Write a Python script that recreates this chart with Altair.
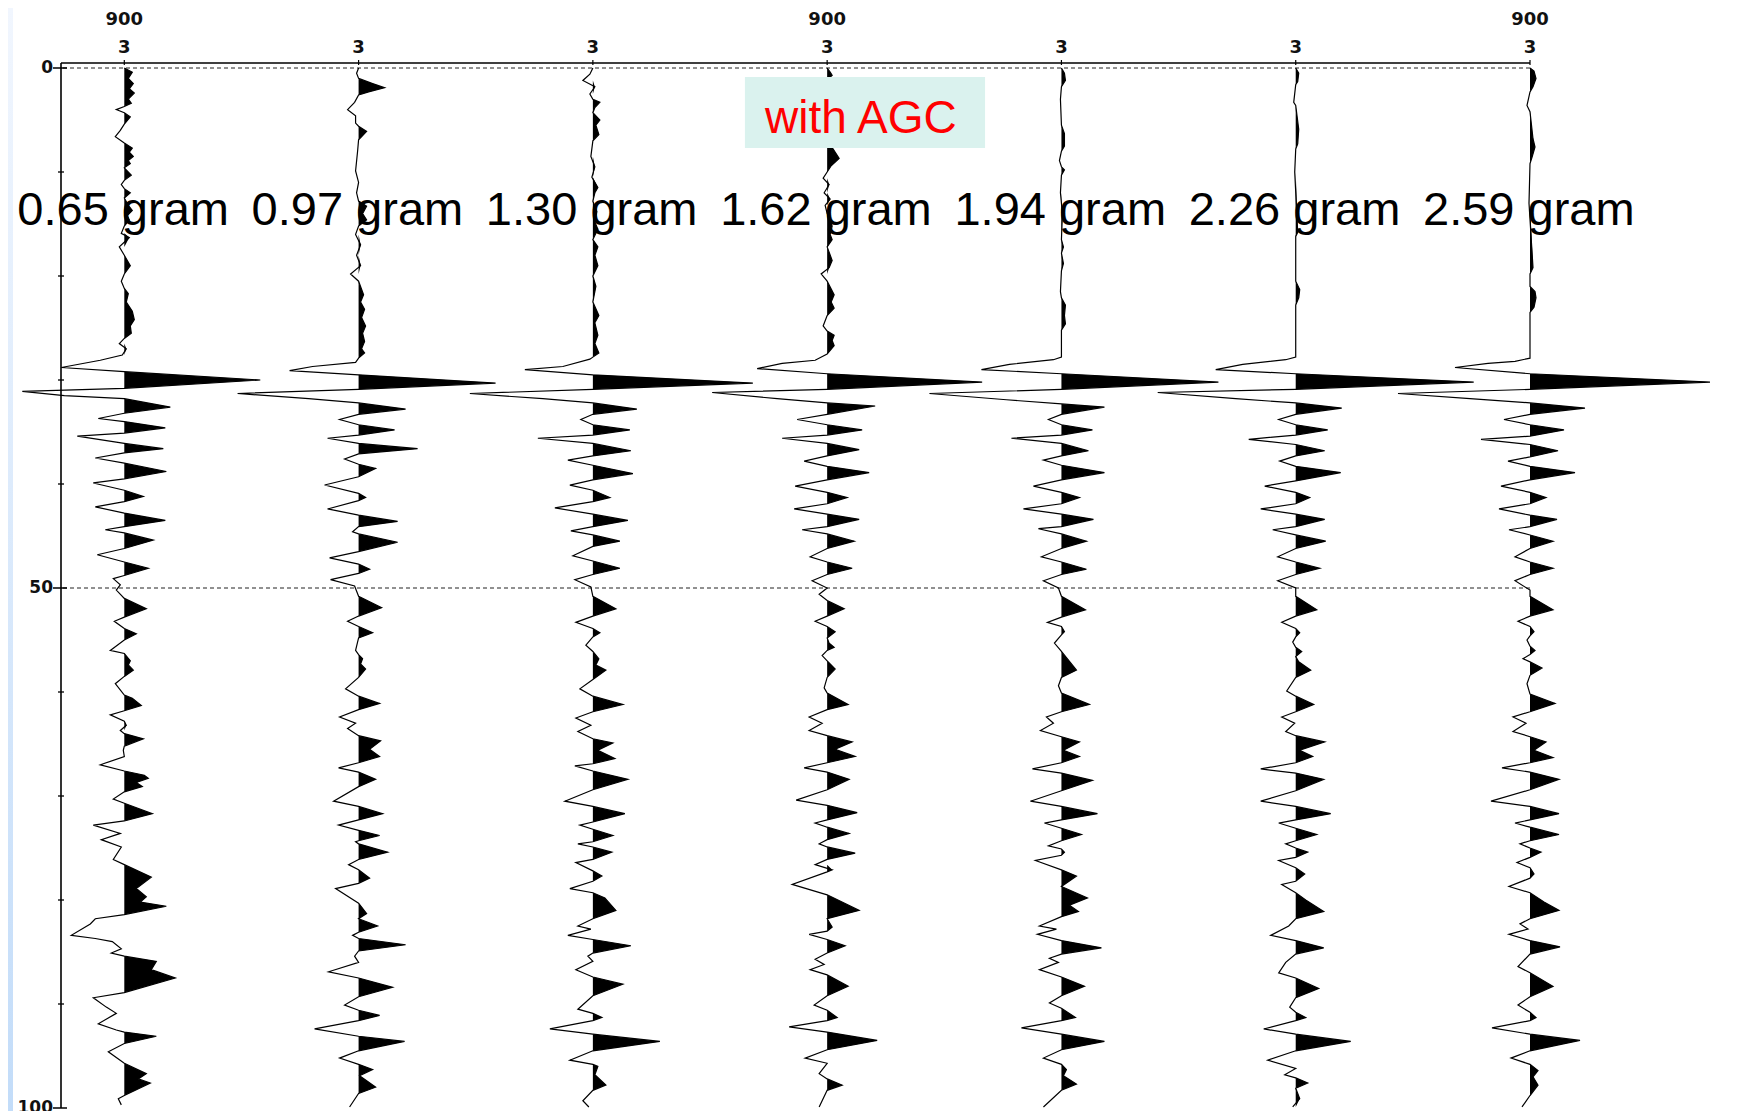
import altair as alt
import pandas as pd

# ---------------- data ----------------
trace_ids = [1, 2, 3, 4, 5, 6, 7]
weight_labels = ["0.65 gram", "0.97 gram", "1.30 gram", "1.62 gram",
                 "1.94 gram", "2.26 gram", "2.59 gram"]
header_upper = "900"
header_upper_traces = [1, 4, 7]
header_lower = "3"
y_major = [0, 50]                        # dashed reference lines
y_major_ticks = [0, 50, 100]             # labelled ticks
y_minor_ticks = [10, 20, 30, 40, 60, 70, 80, 90]
annotation_text = "with AGC"

# (time, amplitude) samples of each trace; amplitude in gain units
t1 = [(0,0),(0.4,8),(1.0,4),(1.5,9),(2.0,5),(2.4,10),(3.0,4),(3.4,7),(3.7,0),(4.0,-8),(4.3,0),(4.7,6),
      (5.4,0),(6.0,-4),(6.6,-9),(7.2,0),(7.7,8),(8.1,5),(8.5,9),(8.9,4),(9.2,6),(9.6,0),(10.3,7),(10.8,0),
      (11.2,-3),(11.6,0),(12.0,6),(12.5,0),(13.2,4),(13.7,8),(14.2,3),(14.6,5),(15.2,0),(15.9,-3),(16.3,5),
      (17.2,-5),(18.0,0),(19.0,6),(19.8,0),(20.5,-3),(21.2,0),(21.7,4),(22.5,2),(23.4,8),(24.2,10),(24.8,6),
      (25.5,7),(26.0,0),(26.5,-5),(27.0,2),(27.6,-2),(28.1,-24),(28.8,-63),(29.2,0),(30.0,136),(30.8,0),
      (31.1,-102),(31.5,-60),(31.8,0),(32.6,46),(33.2,0),(33.7,-26),(34.0,0),(34.6,41),(35.1,0),(35.4,-47),
      (36.1,0),(36.6,39),(37.0,0),(37.5,-29),(38.0,0),(38.8,42),(39.5,0),(39.9,-31),(40.6,0),(41.2,19),
      (41.7,0),(42.2,-29),(42.8,0),(43.5,41),(44.1,0),(44.4,-19),(44.7,0),(45.4,29),(46.2,0),(46.8,-27),
      (47.5,0),(48.1,24),(48.8,0),(49.1,-11),(49.7,-4),(50.2,-8),(51.0,0),(52.0,22),(52.8,0),(53.2,-10),
      (53.9,0),(54.4,12),(55.0,0),(56.0,-14),(56.3,0),(57.0,6),(57.4,4),(57.9,9),(58.5,0),(59.2,-9),(60.3,0),
      (60.6,8),(61.3,17),(61.8,0),(62.2,-14),(62.8,0),(63.2,2),(63.7,-4),(64.0,0),(64.5,19),(65.2,0),
      (65.6,-1),(66.2,0),(67.0,-24),(67.6,0),(68.0,20),(68.3,24),(68.7,12),(69.1,18),(69.6,0),(70.3,-11),
      (70.7,0),(71.7,28),(72.4,0),(72.8,-31),(73.6,-4),(74.2,-23),(74.9,-3),(76.1,-11),(76.6,0),(77.8,27),
      (78.9,12),(79.7,22),(80.2,16),(80.6,42),(81.4,0),(81.8,-29),(82.3,-34),(83.4,-53),(83.7,-29),
      (84.0,-12),(84.7,-3),(85.1,-13),(85.4,0),(85.9,32),(86.7,27),(87.5,51),(88.9,0),(89.4,-31),(90.3,-18),
      (90.9,-8),(91.9,-26),(92.5,-8),(92.7,0),(93.1,32),(93.8,0),(94.6,-16),(95.7,0),(96.7,22),(97.2,14),
      (97.6,26),(98.8,0),(99.1,-6),(99.7,-3)]

t2 = [(0,0),(0.5,-2),(1.0,0),(1.5,14),(1.9,26),(2.3,10),(2.6,0),(3.3,-4),(4.0,-11),(4.6,-3),(5.3,-3),
      (5.6,0),(6.1,8),(6.9,0),(8.0,-1),(9.9,-3),(11.0,0),(12.0,-2),(12.8,0),(13.3,8),(14.0,4),(14.6,8),
      (15.2,0),(16.0,-3),(17.0,2),(18.0,-2),(19.0,2),(19.8,-8),(20.5,0),(21.8,5),(22.5,2),(23.2,6),(24.0,3),
      (24.8,7),(25.5,4),(26.3,6),(27.0,3),(27.4,6),(27.9,0),(28.3,-3),(28.7,-46),(29.1,-69),(29.5,0),
      (30.3,137),(30.9,0),(31.3,-121),(31.8,-50),(32.2,0),(32.8,47),(33.3,0),(33.8,-19),(34.3,0),(34.8,36),
      (35.3,0),(35.6,-31),(36.1,0),(36.6,59),(37.1,0),(37.6,-14),(38.1,0),(38.5,17),(39.3,0),(40.1,-34),
      (40.9,0),(41.3,7),(41.6,0),(42.4,-31),(43.0,0),(43.6,39),(44.1,0),(44.6,-6),(44.8,0),(45.6,39),
      (46.5,0),(47.1,-29),(47.7,0),(48.2,11),(48.6,0),(49.2,-28),(49.8,-4),(50.8,0),(51.9,23),(52.7,0),
      (53.2,-11),(53.7,0),(54.3,14),(54.8,0),(56.0,-3),(56.4,0),(56.8,4),(57.3,2),(57.8,7),(58.6,0),
      (59.7,-13),(60.4,0),(61.1,21),(61.7,0),(62.4,-19),(63.0,-3),(63.5,-11),(64.2,0),(64.7,22),(65.5,11),
      (66.2,21),(66.8,0),(67.3,-20),(67.7,0),(68.4,17),(69.1,0),(70.5,-25),(71.0,0),(71.7,24),(72.3,0),
      (72.8,-20),(73.3,0),(73.8,21),(74.3,0),(74.4,-3),(74.6,0),(75.4,29),(76.1,0),(76.6,-10),(77.1,0),
      (77.9,11),(78.4,0),(78.9,-23),(80.3,0),(81.3,8),(81.8,0),(82.5,19),(83.1,0),(83.4,-6),(83.7,0),
      (84.3,47),(84.9,0),(85.4,-4),(86.0,0),(86.9,-30),(87.5,0),(88.4,34),(89.3,0),(90.1,-14),(90.6,0),
      (91.1,21),(91.6,0),(92.4,-44),(93.1,0),(93.6,46),(94.5,0),(95.2,-19),(95.8,0),(96.3,14),(96.9,1),
      (98.0,17),(98.6,0),(99.9,-9)]

t3 = [(0,0),(0.6,-3),(1.2,-10),(1.8,2),(2.5,-3),(3.0,0),(3.3,7),(3.8,2),(4.3,0),(5.0,7),(5.5,3),(6.4,6),
      (7.0,0),(8.5,-2),(9.5,2),(10.5,-1),(11.5,5),(12.0,2),(12.8,0),(13.8,4),(14.8,2),(15.5,5),(16.5,0),
      (17.2,5),(18.0,2),(19.0,5),(20.0,0),(21.0,3),(22.5,0),(23.8,6),(24.5,2),(25.7,5),(26.5,2),(27.4,6),
      (27.8,0),(28.0,-3),(28.7,-30),(29.0,-68),(29.5,0),(30.3,160),(30.9,0),(31.3,-123),(31.8,-50),(32.2,0),
      (32.8,44),(33.3,0),(33.8,-12),(34.3,0),(34.8,37),(35.3,0),(35.6,-55),(36.1,0),(36.8,38),(37.3,0),
      (37.7,-25),(38.2,0),(39.0,40),(39.6,0),(40.1,-23),(40.6,0),(41.3,17),(41.7,0),(42.3,-38),(42.9,0),
      (43.5,35),(44.1,0),(44.5,-22),(44.9,0),(45.5,27),(46.0,0),(46.9,-20),(47.4,0),(48.1,27),(48.7,0),
      (49.2,-18),(49.9,-2),(50.8,0),(52.0,23),(52.7,0),(53.3,-17),(53.9,0),(54.3,7),(54.7,0),(55.5,-7),
      (56.1,0),(56.8,6),(57.4,3),(57.9,13),(58.8,0),(59.7,-13),(60.4,0),(61.2,30),(61.9,0),(62.5,-17),
      (63.2,-2),(63.8,-15),(64.5,0),(64.9,20),(65.6,5),(66.4,22),(66.9,0),(67.1,-18),(67.6,0),(68.4,35),
      (69.4,0),(70.5,-28),(71.0,0),(71.7,32),(72.5,0),(72.8,-13),(73.2,0),(73.8,20),(74.4,0),(74.6,-15),
      (74.9,0),(75.4,19),(76.1,0),(76.4,-17),(77.2,0),(77.7,9),(78.2,0),(78.9,-23),(79.3,0),(79.8,12),
      (81.0,23),(81.8,0),(82.5,-15),(82.8,-2),(83.4,-25),(83.8,0),(84.4,38),(85.1,0),(85.4,-5),(85.9,0),
      (86.7,-17),(87.4,0),(88.1,30),(89.2,0),(90.5,-15),(90.9,0),(91.3,9),(91.6,0),(92.4,-43),(92.9,0),
      (93.6,67),(94.5,0),(95.4,-23),(95.8,0),(96.0,5),(96.8,2),(97.8,13),(98.3,0),(99.3,-10),(99.9,-4)]

t4 = [(0,0),(0.4,3),(0.7,5),(1.1,0),(2.5,3),(4.0,-2),(5.5,3),(7.0,0),(7.8,6),(8.7,12),(9.4,4),(10.0,0),
      (10.6,-4),(11.2,2),(12.0,-3),(12.6,3),(13.2,-2),(14.0,0),(15.2,5),(16.0,3),(16.5,5),(17.2,0),(18.5,5),
      (19.2,2),(19.8,-6),(20.5,0),(21.8,7),(22.5,4),(23.1,7),(23.8,0),(24.8,-4),(25.3,0),(25.7,7),(26.2,5),
      (26.7,7),(27.5,0),(28.1,-12),(28.4,-45),(28.9,-70),(29.4,0),(30.2,155),(30.9,0),(31.2,-115),
      (31.8,-50),(32.2,0),(32.5,48),(33.3,0),(33.8,-30),(34.3,0),(34.8,35),(35.3,0),(35.6,-45),(36.1,0),
      (36.7,32),(37.3,0),(37.8,-23),(38.3,0),(38.9,42),(39.6,0),(40.2,-32),(40.8,0),(41.3,20),(41.9,0),
      (42.4,-33),(42.9,0),(43.4,32),(44.1,0),(44.4,-25),(44.8,0),(45.5,27),(46.2,0),(47.0,-17),(47.5,0),
      (48.1,25),(48.7,0),(49.3,-15),(50.0,0),(50.6,-8),(51.2,0),(52.0,17),(52.7,0),(53.2,-12),(53.7,0),
      (54.2,8),(54.8,0),(55.3,2),(55.7,7),(56.0,0),(56.5,-5),(57.0,0),(57.8,8),(58.6,0),(59.6,-3),(60.1,0),
      (61.2,21),(61.7,0),(62.4,-18),(63.0,-5),(63.7,-18),(64.2,0),(64.8,25),(65.5,8),(66.2,28),(66.8,0),
      (67.3,-23),(67.7,0),(68.4,22),(69.4,0),(70.4,-31),(70.9,0),(71.6,30),(72.3,0),(72.6,-12),(73.0,0),
      (73.6,22),(74.2,0),(74.6,-8),(74.9,0),(75.5,28),(76.1,0),(76.6,-12),(77.1,5),(77.3,0),(78.5,-35),
      (79.5,0),(81.0,32),(81.8,0),(82.6,5),(83.0,0),(83.3,-18),(83.8,0),(84.4,18),(85.1,0),(85.7,-12),
      (86.2,-3),(86.7,-17),(87.2,0),(88.3,21),(89.2,0),(90.1,-13),(90.6,0),(91.3,10),(91.6,0),(92.2,-38),
      (92.7,0),(93.5,50),(94.4,0),(95.2,-22),(95.7,0),(96.7,-8),(97.2,0),(97.8,15),(98.3,0),(99.9,-8)]

t5 = [(0,0),(0.5,3),(1.2,4),(1.8,0),(3.0,-1),(5.5,0),(6.3,3),(7.5,3),(8.0,0),(8.9,-2),(9.5,0),(9.8,3),
      (10.3,0),(12.0,-1),(14.0,1),(16.5,0),(17.2,2),(17.8,0),(18.8,2),(19.5,0),(21.5,-1),(22.1,0),(22.8,4),
      (23.8,3),(24.6,4),(25.2,0),(27.8,0),(28.05,-8),(28.5,-52),(29.0,-80),(29.4,0),(30.2,157),(30.9,0),
      (31.3,-132),(31.9,-55),(32.3,0),(32.6,43),(33.3,0),(33.8,-13),(34.3,0),(34.8,31),(35.3,0),(35.6,-50),
      (36.1,0),(36.8,27),(37.3,0),(37.7,-18),(38.2,0),(38.9,43),(39.6,0),(40.2,-28),(40.8,0),(41.3,18),
      (41.9,0),(42.4,-38),(42.9,0),(43.4,32),(44.1,0),(44.3,-23),(44.8,0),(45.5,25),(46.2,0),(47.0,-20),
      (47.5,0),(48.2,25),(48.7,0),(49.3,-18),(50.0,-3),(50.8,0),(52.1,24),(52.8,0),(53.3,-14),(53.7,0),
      (54.2,3),(54.5,0),(55.3,-7),(56.1,0),(57.9,15),(58.6,0),(59.4,-3),(60.1,0),(61.2,28),(61.9,0),
      (62.4,-15),(63.0,-8),(63.7,-21),(64.3,0),(64.8,18),(65.6,2),(66.2,18),(66.8,0),(67.4,-29),(67.8,0),
      (68.5,31),(69.5,0),(70.5,-31),(71.0,0),(71.7,36),(72.3,0),(72.6,-17),(73.1,0),(73.7,20),(74.3,0),
      (74.8,-13),(75.1,0),(75.4,3),(75.7,0),(76.2,-26),(77.1,0),(77.7,15),(78.7,0),(79.8,26),(80.5,8),
      (81.1,17),(81.6,0),(82.5,-22),(82.8,-5),(83.3,-24),(83.9,0),(84.6,40),(85.2,0),(85.6,-12),(86.0,-3),
      (86.7,-22),(87.4,0),(88.3,23),(89.2,0),(89.9,-12),(90.4,0),(91.3,14),(91.6,0),(92.3,-40),(92.9,0),
      (93.6,43),(94.4,0),(95.2,-18),(95.8,0),(96.3,5),(96.9,2),(97.7,15),(98.3,0),(99.9,-18)]

t6 = [(0,0),(0.5,3),(1.3,2),(1.6,0),(3.3,-2),(3.6,0),(5.9,3),(7.3,2),(7.8,0),(10.0,-1),(15.8,2),(16.2,0),
      (20.5,0),(21.3,4),(22.1,3),(22.8,0),(27.8,0),(28.05,-10),(28.5,-53),(29.0,-80),(29.4,0),(30.2,178),
      (30.9,0),(31.2,-138),(31.8,-60),(32.2,0),(32.7,46),(33.3,0),(33.8,-17),(34.3,0),(34.8,32),(35.3,0),
      (35.7,-47),(36.2,0),(36.8,29),(37.3,0),(37.8,-16),(38.3,0),(38.9,45),(39.7,0),(40.2,-31),(40.8,0),
      (41.3,14),(41.9,0),(42.4,-35),(42.9,0),(43.4,29),(44.1,0),(44.4,-23),(44.9,0),(45.5,30),(46.2,0),
      (47.0,-18),(47.5,0),(48.1,24),(48.7,0),(49.3,-18),(50.0,0),(50.8,0),(52.1,21),(52.7,0),(53.3,-14),
      (53.9,0),(54.3,4),(54.7,0),(55.2,-3),(55.7,0),(56.1,6),(56.6,0),(57.1,3),(57.9,15),(58.6,0),(59.9,-9),
      (60.4,0),(61.2,18),(61.9,0),(62.4,-14),(63.0,-1),(63.8,-10),(64.2,0),(64.8,29),(65.6,4),(66.2,17),
      (66.8,0),(67.4,-35),(67.8,0),(68.4,28),(69.5,0),(70.5,-35),(71.0,0),(71.7,35),(72.3,0),(72.6,-17),
      (73.1,0),(73.7,21),(74.3,0),(74.6,-10),(75.0,0),(75.4,12),(75.9,0),(76.2,-17),(76.9,0),(77.5,9),
      (78.2,0),(78.5,-14),(79.3,0),(80.0,10),(81.1,28),(81.8,0),(82.5,-7),(83.4,-25),(83.9,0),(84.6,28),
      (85.2,0),(86.0,-10),(87.0,-17),(87.5,0),(88.5,23),(89.4,0),(90.3,-6),(90.8,0),(91.3,10),(91.6,0),
      (92.4,-32),(92.9,0),(93.6,55),(94.5,0),(95.4,-28),(96.2,0),(96.8,-11),(97.1,0),(97.6,12),(98.1,0),
      (99.1,4),(99.9,-3)]

t7 = [(0,0),(0.3,4),(1.0,6),(1.8,3),(2.3,0),(3.6,-3),(4.2,0),(6.8,3),(7.6,5),(8.6,2),(9.2,0),(13.0,-1),
      (19.2,3),(19.8,0),(21.0,0),(21.5,5),(22.1,6),(23.0,4),(23.5,0),(27.9,0),(28.2,-15),(28.4,-42),
      (28.8,-75),(29.4,0),(30.2,180),(30.9,0),(31.3,-132),(31.8,-60),(32.2,0),(32.7,55),(33.3,0),(33.8,-26),
      (34.3,0),(34.8,34),(35.4,0),(35.7,-49),(36.2,0),(36.8,28),(37.4,0),(37.8,-22),(38.3,0),(38.9,45),
      (39.6,0),(40.2,-29),(40.8,0),(41.3,16),(41.9,0),(42.4,-31),(43.0,0),(43.4,27),(44.1,0),(44.4,-21),
      (44.9,0),(45.5,23),(46.2,0),(47.0,-15),(47.5,0),(48.1,23),(48.7,0),(49.3,-15),(50.2,0),(50.8,0),
      (52.1,23),(52.7,0),(53.2,-12),(53.7,0),(54.2,4),(54.6,0),(55.0,-3),(55.6,0),(56.0,5),(56.4,0),
      (56.8,-7),(57.1,0),(57.7,12),(58.4,0),(59.2,-3),(60.2,0),(61.1,25),(61.9,0),(62.4,-17),(63.0,-4),
      (63.8,-17),(64.3,0),(64.8,16),(65.6,4),(66.3,23),(66.8,0),(67.3,-28),(67.7,0),(68.4,29),(69.4,0),
      (70.5,-39),(71.0,0),(71.7,29),(72.3,0),(72.6,-15),(73.0,0),(73.7,29),(74.3,0),(74.6,-10),(75.0,0),
      (75.4,11),(75.9,0),(76.4,-13),(76.9,0),(77.5,4),(77.9,0),(78.7,-21),(79.3,0),(80.2,14),(81.0,29),
      (81.8,0),(82.3,-10),(82.8,-2),(83.3,-21),(83.9,0),(84.5,30),(85.2,0),(86.4,-12),(87.0,0),(88.3,23),
      (89.3,0),(90.1,-12),(90.8,0),(91.3,6),(91.6,0),(92.3,-38),(92.9,0),(93.5,50),(94.5,0),(95.2,-19),
      (95.8,0),(96.4,8),(97.0,3),(97.8,8),(98.8,0),(99.9,-8)]

traces = [t1, t2, t3, t4, t5, t6, t7]

# ---------------- build tables ----------------
GAIN = 234.28   # amplitude units per trace spacing
X_MIN, X_MAX = 0.7298, 7.0
rows = []
for k, tr in zip(trace_ids, traces):
    for i, (t, a) in enumerate(tr):
        rows.append({"trace": k, "idx": i, "time": t, "amp": a})
wave_df = pd.DataFrame(rows)
label_df = pd.DataFrame({"trace": trace_ids, "label": weight_labels})
header_df = pd.DataFrame({"trace": header_upper_traces, "label": [header_upper] * len(header_upper_traces)})
lower_df = pd.DataFrame({"trace": trace_ids, "label": [header_lower] * len(trace_ids)})
rule_df = pd.DataFrame({"time": y_major})
ymaj_df = pd.DataFrame({"time": y_major_ticks, "label": [str(v) for v in y_major_ticks]})
ymin_df = pd.DataFrame({"time": y_minor_ticks})
one_df = pd.DataFrame({"k": [0]})

xscale = alt.Scale(domain=[X_MIN, X_MAX], nice=False, zero=False)
yscale = alt.Scale(domain=[0, 100], reverse=True, nice=False, zero=False)

AX_FONT = "DejaVu Sans"
AX_COLOR = "#111111"
TOP_LINE = -0.48     # top frame line sits just above time 0

strip = alt.Chart(one_df).mark_rect(
    color=alt.Gradient(gradient="linear",
                       stops=[alt.GradientStop(color="#f1f6fe", offset=0),
                              alt.GradientStop(color="#c2dcf9", offset=1)],
                       x1=0, x2=0, y1=0, y2=1)
).encode(x=alt.value(-53), x2=alt.value(-48), y=alt.value(-60), y2=alt.value(1060))

# ----- axes (frame lines, ticks, labels) -----
y_domain = alt.Chart(one_df).mark_rule(color="black", strokeWidth=1.6).encode(
    x=alt.XDatum(X_MIN, scale=xscale, axis=None),
    y=alt.YDatum(TOP_LINE, scale=yscale, axis=None), y2=alt.Y2Datum(100),
)
top_domain = alt.Chart(one_df).mark_rule(color="black", strokeWidth=1.6).encode(
    x=alt.XDatum(X_MIN, scale=xscale, axis=None), x2=alt.X2Datum(X_MAX),
    y=alt.YDatum(TOP_LINE, scale=yscale, axis=None),
)
y_major_marks = alt.Chart(ymaj_df).mark_rule(color="black", strokeWidth=1.5).encode(
    y=alt.Y("time:Q", scale=yscale, axis=None), x=alt.value(-8), x2=alt.value(6),
)
y_minor_marks = alt.Chart(ymin_df).mark_rule(color="black", strokeWidth=1.3).encode(
    y=alt.Y("time:Q", scale=yscale, axis=None), x=alt.value(-3), x2=alt.value(3),
)
y_labels = alt.Chart(ymaj_df).mark_text(
    color=AX_COLOR, font=AX_FONT, fontWeight="bold", fontSize=17, align="right", baseline="middle"
).encode(y=alt.Y("time:Q", scale=yscale, axis=None), x=alt.value(-8), text="label:N")
top_ticks = alt.Chart(lower_df).mark_rule(color="black", strokeWidth=1.2).encode(
    x=alt.X("trace:Q", scale=xscale, axis=None), y=alt.value(-8), y2=alt.value(-3),
)
top_lower = alt.Chart(lower_df).mark_text(
    color=AX_COLOR, font=AX_FONT, fontWeight="bold", fontSize=18, align="center", baseline="alphabetic"
).encode(x=alt.X("trace:Q", scale=xscale, axis=None), y=alt.value(-15), text="label:N")
top_upper = alt.Chart(header_df).mark_text(
    color=AX_COLOR, font=AX_FONT, fontWeight="bold", fontSize=18, align="center", baseline="alphabetic"
).encode(x=alt.X("trace:Q", scale=xscale, axis=None), y=alt.value(-43), text="label:N")

rules = alt.Chart(rule_df).mark_rule(color="#222222", strokeDash=[4, 3], strokeWidth=1).encode(
    y=alt.Y("time:Q", scale=yscale, axis=None)
)

# ----- wiggle traces with variable-area fill -----
base = alt.Chart(wave_df).transform_calculate(
    xpos=f"datum.trace + datum.amp / {GAIN}",
    xfill=f"datum.trace + max(datum.amp, 0) / {GAIN}",
)
fills = []
for k in trace_ids:
    fills.append(
        base.transform_filter(f"datum.trace == {k}").mark_area(
            orient="horizontal", color="black"
        ).encode(
            y=alt.Y("time:Q", scale=yscale, axis=None),
            x=alt.X("xfill:Q", scale=xscale, axis=None, stack=False),
            x2=alt.X2Datum(k),
        )
    )
line = base.mark_line(color="black", strokeWidth=1.2).encode(
    y=alt.Y("time:Q", scale=yscale, axis=None),
    x=alt.X("xpos:Q", scale=xscale, axis=None),
    detail="trace:N",
    order=alt.Order("idx:Q"),
)

# ----- annotations -----
box = alt.Chart(one_df).mark_rect(color="#daf2ee").encode(
    x=alt.XDatum(3.649, scale=xscale, axis=None), x2=alt.X2Datum(4.674),
    y=alt.YDatum(0.87, scale=yscale, axis=None), y2=alt.Y2Datum(7.7),
)
agc = alt.Chart(one_df).mark_text(
    text=annotation_text, color="#ff0000", font="Liberation Sans", fontSize=46,
    align="left", baseline="alphabetic"
).encode(x=alt.XDatum(3.735, scale=xscale, axis=None), y=alt.YDatum(6.25, scale=yscale, axis=None))

labels = alt.Chart(label_df).mark_text(
    color="black", font="Liberation Sans", fontSize=47, align="left",
    baseline="alphabetic", dx=-107
).encode(
    x=alt.X("trace:Q", scale=xscale, axis=None),
    y=alt.YDatum(15.1, scale=yscale, axis=None),
    text="label:N",
)

chart = alt.layer(
    strip, rules, *fills, line, y_domain, top_domain, y_major_marks, y_minor_marks, y_labels,
    top_ticks, top_lower, top_upper, box, agc, labels
).properties(
    width=1469, height=1040,
    autosize=alt.AutoSizeParams(type="none"),
    padding={"left": 53, "top": 60, "right": 190, "bottom": 20},
    background="white",
).configure_view(strokeWidth=0)

chart.save("out.html", embed_options={"renderer": "svg", "actions": False})
